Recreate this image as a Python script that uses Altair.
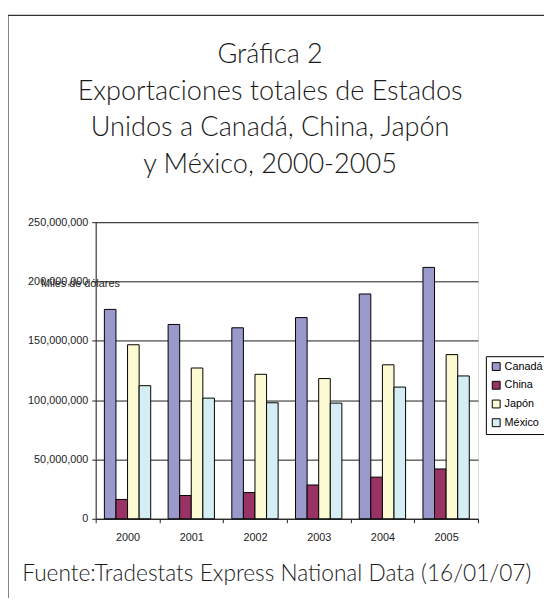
import altair as alt
import pandas as pd

years = ["2000", "2001", "2002", "2003", "2004", "2005"]
countries = ["Canadá", "China", "Japón", "México"]
canada = [176500000, 163800000, 161000000, 169600000, 189500000, 211900000]
china = [16300000, 19600000, 22100000, 28500000, 35100000, 42000000]
japon = [146700000, 127100000, 121800000, 118200000, 129800000, 138400000]
mexico = [112200000, 101700000, 97800000, 97500000, 111000000, 120400000]
colors = ["#9999cc", "#993366", "#fcfad2", "#d4eef4"]
y_ticks = [0, 50000000, 100000000, 150000000, 200000000, 250000000]

title_lines = [
    "Gráfica 2",
    "Exportaciones totales de Estados",
    "Unidos a Canadá, China, Japón",
    "y México, 2000-2005",
]
source = "Fuente:Tradestats Express National Data (16/01/07)"
y_title = "Miles de dólares"

rows = []
for c, vals in zip(countries, [canada, china, japon, mexico]):
    for yr, v in zip(years, vals):
        rows.append({"year": yr, "country": c, "value": v})
df = pd.DataFrame(rows)

W, H = 388, 301
TITLE_FONT = "Lato"
LABEL_FONT = "Liberation Sans"

bars = alt.Chart(df).mark_bar(stroke="black", strokeWidth=1).encode(
    x=alt.X(
        "year:N",
        sort=years,
        scale=alt.Scale(paddingInner=0, paddingOuter=0),
        axis=alt.Axis(
            title=source,
            titleFont=TITLE_FONT,
            titleFontSize=23,
            titleFontWeight=300,
            titleColor="#1a1a1a",
            titleAngle=0,
            titleAlign="left",
            titleBaseline="alphabetic",
            titleX=-75,
            titleY=63,
            labelAngle=0,
            labelFont=LABEL_FONT,
            labelFontSize=11,
            labelColor="#222",
            labelPadding=9,
            tickBand="extent",
            tickSize=4,
            tickColor="#222",
            domainColor="#222",
            grid=False,
        ),
    ),
    xOffset=alt.XOffset(
        "country:N",
        sort=countries,
        scale=alt.Scale(paddingInner=0, paddingOuter=0.75),
    ),
    y=alt.Y(
        "value:Q",
        scale=alt.Scale(domain=[0, 250000000], nice=False),
        axis=alt.Axis(
            values=y_ticks,
            format=",d",
            title=y_title,
            titleFont=LABEL_FONT,
            titleFontSize=11,
            titleFontWeight="normal",
            titleColor="#222",
            titleAngle=0,
            titleAlign="right",
            titleBaseline="middle",
            titleX=24,
            titleY=62,
            labelFont=LABEL_FONT,
            labelFontSize=11,
            labelColor="#222",
            labelPadding=4,
            tickSize=4,
            tickColor="#222",
            domainColor="#222",
            grid=True,
            gridColor="#1a1a1a",
            gridWidth=1,
        ),
    ),
    color=alt.Color(
        "country:N",
        sort=countries,
        scale=alt.Scale(domain=countries, range=colors),
        legend=alt.Legend(
            title=None,
            orient="none",
            legendX=396,
            legendY=136,
            strokeColor="black",
            fillColor="white",
            padding=5,
            symbolType="square",
            symbolSize=64,
            symbolStrokeColor="black",
            symbolStrokeWidth=1,
            symbolOpacity=1,
            labelFont=LABEL_FONT,
            labelFontSize=11,
            labelColor="black",
            labelOffset=3,
            rowPadding=6,
        ),
    ),
)

frame_top = alt.Chart(alt.Data(values=[{"a": 1}])).mark_rule(
    color="#333", strokeWidth=1.2
).encode(x=alt.value(-89), x2=alt.value(460), y=alt.value(-210))

frame_left = alt.Chart(alt.Data(values=[{"a": 1}])).mark_rule(
    color="#333", strokeWidth=1.2
).encode(x=alt.value(-89), y=alt.value(-210), y2=alt.value(382))

chart = alt.layer(bars, frame_top, frame_left).properties(
    width=W,
    height=H,
    title=alt.TitleParams(
        text=title_lines,
        font=TITLE_FONT,
        fontSize=27.5,
        fontWeight=300,
        color="#1a1a1a",
        lineHeight=37,
        anchor="middle",
        dx=-17,
        offset=-166,
    ),
    autosize=alt.AutoSizeParams(type="none"),
    padding={"left": 89, "top": 213, "right": 67, "bottom": 76},
).configure_view(
    stroke="#999", strokeWidth=1.5
).configure(background="white")

chart.save("out.html", embed_options={"renderer": "svg", "actions": False})
